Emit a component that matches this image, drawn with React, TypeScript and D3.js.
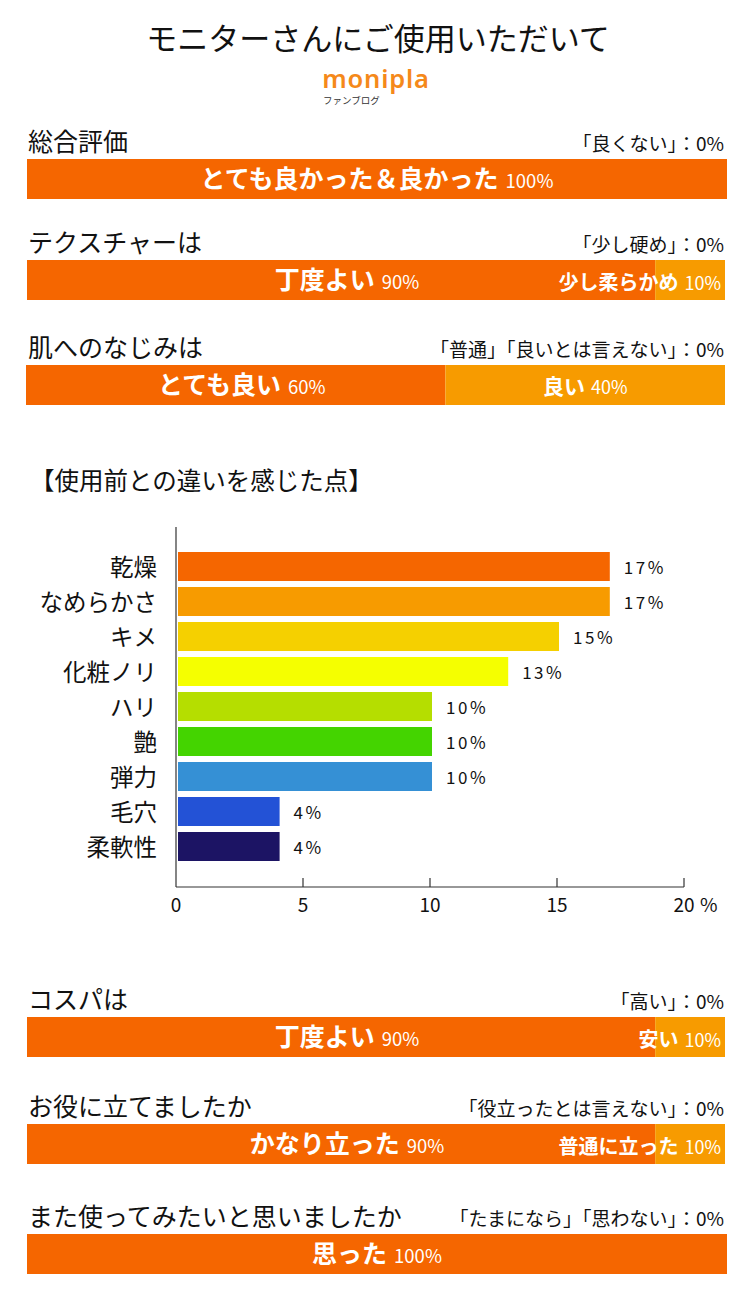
import React from "react";
import * as d3 from "d3";

// ---------- data ----------
const pageTitle = "モニターさんにご使用いただいて";
const logoText = "monipla";
const logoSub = "ファンブログ";

const questions = ["総合評価", "テクスチャーは", "肌へのなじみは", "コスパは", "お役に立てましたか", "また使ってみたいと思いましたか"];
const notes = ["「良くない」：0%", "「少し硬め」：0%", "「普通」「良いとは言えない」：0%", "「高い」：0%", "「役立ったとは言えない」：0%", "「たまになら」「思わない」：0%"];
const mainLabels = ["とても良かった＆良かった", "丁度よい", "とても良い", "丁度よい", "かなり立った", "思った"];
const mainValues = [100, 90, 60, 90, 90, 100];
const subLabels = ["", "少し柔らかめ", "良い", "安い", "普通に立った", ""];
const subValues = [0, 10, 40, 10, 10, 0];

const diffTitle = "【使用前との違いを感じた点】";
const categories = ["乾燥", "なめらかさ", "キメ", "化粧ノリ", "ハリ", "艶", "弾力", "毛穴", "柔軟性"];
const percentages = [17, 17, 15, 13, 10, 10, 10, 4, 4];
const barColors = ["#F56600", "#F79B00", "#F5D000", "#F5FF00", "#B5DE00", "#44D400", "#3590D5", "#2352D6", "#1C1464"];
const xTicks = [0, 5, 10, 15, 20];

// ---------- layout ----------
const W = 755;
const H = 1314;
const FONT = "'Noto Sans CJK JP', 'Noto Sans', sans-serif";
const MAIN = "#F56600";
const LIGHT = "#F79B00";
const barTops = [159, 260, 365, 1017, 1124, 1234];
const barLefts = [27, 27, 26, 27, 27, 27];
const barRights = [727, 725, 725, 725, 725, 727];
const BAR_H = 40;

function StackBar({ i }: { i: number }) {
  const top = barTops[i];
  const x = d3.scaleLinear().domain([0, 100]).range([barLefts[i], barRights[i]]);
  const mainEnd = x(mainValues[i]);
  const subEnd = x(mainValues[i] + subValues[i]);
  const baseY = top + 29;
  const subIsSmall = subValues[i] > 0 && subValues[i] < 20;
  return (
    <g>
      <text x={28} y={top - 8} fontSize={25} fill="#111" fontFamily={FONT}>
        {questions[i]}
      </text>
      <text x={724} y={top - 8} fontSize={19} fill="#111" textAnchor="end" fontFamily={FONT}>
        {notes[i]}
      </text>
      <rect x={x(0)} y={top} width={mainEnd - x(0)} height={BAR_H} fill={MAIN} />
      {subValues[i] > 0 && (
        <rect x={mainEnd} y={top} width={subEnd - mainEnd} height={BAR_H} fill={LIGHT} />
      )}
      <text
        x={(x(0) + mainEnd) / 2 + (subValues[i] > 0 ? 6 : 0)}
        y={baseY}
        textAnchor="middle"
        fill="#fff"
        fontFamily={FONT}
      >
        <tspan fontSize={25} fontWeight={700}>{mainLabels[i]}</tspan>
        <tspan fontSize={18.5} dx={7}>{mainValues[i]}%</tspan>
      </text>
      {subValues[i] > 0 && (
        <text
          x={subIsSmall ? subEnd - 4 : (mainEnd + subEnd) / 2}
          y={subIsSmall ? baseY + 1 : baseY}
          textAnchor={subIsSmall ? "end" : "middle"}
          fill="#fff"
          fontFamily={FONT}
        >
          <tspan fontSize={subIsSmall ? 20 : 21} fontWeight={700}>{subLabels[i]}</tspan>
          <tspan fontSize={18} dx={6}>{subValues[i]}%</tspan>
        </text>
      )}
    </g>
  );
}

function BarChart() {
  const x = d3.scaleLinear().domain([0, 20]).range([176, 684]);
  const y = d3.scaleBand<string>().domain(categories).range([549, 864]).paddingInner(6 / 35).paddingOuter(3 / 35);
  const axisY = 887;
  const shift = 2;
  return (
    <g fontFamily={FONT}>
      <text x={30} y={490} fontSize={24.5} fill="#111">{diffTitle}</text>
      {categories.map((c, i) => (
        <g key={c}>
          <rect
            x={x(0) + shift}
            y={y(c)!}
            width={x(percentages[i]) - x(0)}
            height={y.bandwidth()}
            fill={barColors[i]}
          />
          <text x={157} y={y(c)! + y.bandwidth() / 2 + 9} fontSize={23.5} textAnchor="end" fill="#111">{c}</text>
          <text
            x={x(percentages[i]) + shift + 14}
            y={y(c)! + y.bandwidth() / 2 + 7}
            fontSize={17}
            letterSpacing={2.5}
            fill="#111"
          >
            {percentages[i]}%
          </text>
        </g>
      ))}
      <line x1={x(0)} x2={x(0)} y1={527} y2={axisY} stroke="#333" strokeWidth={1.2} />
      <line x1={x(0)} x2={x(20)} y1={axisY} y2={axisY} stroke="#333" strokeWidth={1.2} />
      {xTicks.map((t) => (
        <g key={t}>
          {t > 0 && <line x1={x(t)} x2={x(t)} y1={axisY - 9} y2={axisY} stroke="#333" strokeWidth={1.2} />}
          <text x={x(t)} y={912} fontSize={19} textAnchor="middle" fill="#111">{t}</text>
        </g>
      ))}
      <text x={x(20) + 16} y={912} fontSize={19} fill="#111">%</text>
    </g>
  );
}

export default function App() {
  return (
    <svg
      width={W}
      height={H}
      style={{ position: "absolute", left: 0, top: 0, background: "#fff" }}
      fontFamily={FONT}
    >
      <rect x={0} y={0} width={W} height={H} fill="#fff" />
      <text x={378} y={50} fontSize={31} textAnchor="middle" fill="#111">{pageTitle}</text>
      <text x={376} y={88} fontSize={25.5} fontWeight={600} textAnchor="middle" fill="#F5891A" fontFamily="'Noto Sans', sans-serif" letterSpacing={0.8}>
        {logoText}
      </text>
      <text x={323} y={104} fontSize={9.5} fill="#333">{logoSub}</text>
      {questions.map((q, i) => (
        <StackBar key={q} i={i} />
      ))}
      <BarChart />
    </svg>
  );
}
